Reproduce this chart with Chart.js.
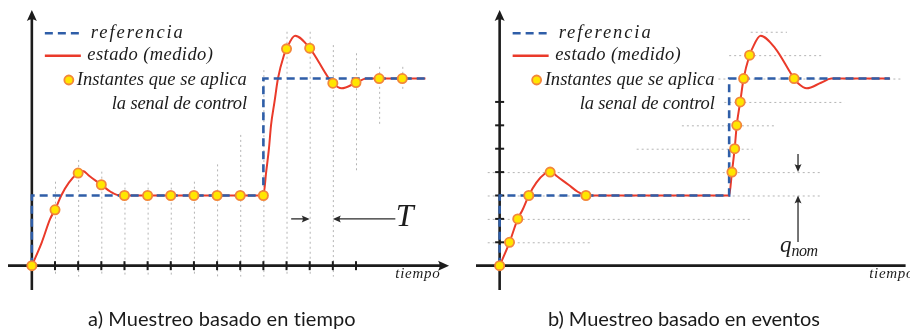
<!DOCTYPE html>
<html><head><meta charset="utf-8">
<script src="https://cdn.jsdelivr.net/npm/chart.js@4.4.1/dist/chart.umd.min.js"></script>
<style>
html,body{margin:0;padding:0;background:#fff;width:910px;height:330px;overflow:hidden}
.p{position:absolute;top:0;width:455px;height:330px}
#wa{left:0}#wb{left:455px}
</style></head><body>
<div class="p" id="wa"><canvas id="ca" width="455" height="330"></canvas></div>
<div class="p" id="wb"><canvas id="cb" width="455" height="330"></canvas></div>
<script>
// ---- data (time in sample periods T, value in quantisation steps q_nom) ----
const stateCurve = [[0,0],[0.43,1],[0.79,2],[1,2.39],[1.27,3],[1.6,3.55],[2,3.96],[2.2,4.05],[2.5,3.82],[3,3.46],[3.4,3.16],[3.8,3.0],[10,3],[10.12,4],[10.24,5],[10.33,6],[10.48,7],[10.63,8],[10.89,9],[11,9.27],[11.37,9.83],[12,9.3],[12.83,8],[13,7.8],[13.38,7.58],[14,7.82],[14.45,8],[17,8]];
const reference = [[0,0],[0,3],[10,3],[10,8],[17,8]];
const samplesTime = [[0,0],[1,2.39],[2,3.96],[3,3.46],[4,3],[5,3],[6,3],[7,3],[8,3],[9,3],[10,3],[11,9.27],[12,9.3],[13,7.8],[14,7.83],[15,8],[16,8]];
const samplesEvent = [[0,0],[0.43,1],[0.79,2],[1.27,3],[2.2,4],[3.76,3],[10.12,4],[10.24,5],[10.33,6],[10.48,7],[10.63,8],[10.89,9],[12.83,8]];
const timeTicks = [1,2,3,4,5,6,7,8,9,10,11,12,13,14];
const levelTicks = [1,2,3,4,5,6,7];
// vertical sampling guides: [t, top, bottom]
const timeGuides = [[1,3.59,-0.47],[2,4.52,-0.47],[3,4.02,-0.47],[4,3.55,-0.47],[5,3.55,-0.47],[6,3.55,-0.47],[7,3.59,-0.47],[8,4.33,-0.47],[9,5.59,-0.47],[10,8.36,-0.47],[11,10.0,-0.47],[12,10.0,-0.47],[13,9.43,-0.47],[14,9.08,3.95],[15,8.5,5.94],[16,8.5,7.44]];
// horizontal level guides: [k, tStart, tEnd]
const levelGuides = [[1,-0.52,3.99],[2,-0.52,11.02],[3,-0.52,14.02],[4,-0.52,14.02],[5,5.97,11.02],[6,7.94,12.02],[7,9.79,15.02],[8,9.53,17.5],[9,10.0,14.02],[10,10.94,12.52]];
const legendLabels = ['referencia','estado (medido)','Instantes que se aplica','la senal de control'];
const captions = ['a) Muestreo basado en tiempo','b) Muestreo basado en eventos'];
const axisLabel = 'tiempo';
const periodLabel = 'T';
const quantLabel = ['q','nom'];

const BLUE='#2f5ea8', RED='#ea3a2a', YEL='#ffe600', ORG='#f3873a', INK='#1c1c1c', GRAY='#b4b4b4';
const SERIF="'Liberation Serif','DejaVu Serif',serif";

function txt(ctx,s,x,y,font,w,color){
  ctx.save();ctx.font=font;ctx.fillStyle=color||INK;ctx.textAlign='left';ctx.textBaseline='alphabetic';
  ctx.letterSpacing='0px';
  if(w){const m=ctx.measureText(s).width;let ls=(w-m)/s.length;ls=Math.max(-2,Math.min(5,ls));ctx.letterSpacing=ls.toFixed(2)+'px';}
  ctx.fillText(s,x,y);ctx.restore();
}
function head(ctx,x,y,ang,len,hw){
  ctx.save();ctx.translate(x,y);ctx.rotate(ang);ctx.beginPath();
  ctx.moveTo(0,0);ctx.lineTo(-len,-hw);ctx.quadraticCurveTo(-len*0.7,0,-len,hw);ctx.closePath();ctx.fill();ctx.restore();
}
function arrow(ctx,x1,y1,x2,y2,lw,len,hw){
  const a=Math.atan2(y2-y1,x2-x1);
  ctx.beginPath();ctx.moveTo(x1,y1);ctx.lineTo(x2-Math.cos(a)*len*0.6,y2-Math.sin(a)*len*0.6);ctx.lineWidth=lw;ctx.stroke();
  head(ctx,x2,y2,a,len,hw);
}

const panelPlugin={
  id:'panel',
  beforeDatasetsDraw(chart,args,o){
    const ctx=chart.ctx,X=chart.scales.x,Y=chart.scales.y,ca=chart.chartArea;
    const px=v=>X.getPixelForValue(v),py=v=>Y.getPixelForValue(v);
    ctx.save();
    ctx.strokeStyle=GRAY;ctx.lineWidth=1;ctx.setLineDash([2,3]);
    if(o.kind==='a'){
      timeGuides.forEach(([t,a,b])=>{ctx.beginPath();ctx.moveTo(px(t)+0.5,py(a));ctx.lineTo(px(t)+0.5,py(b));ctx.stroke();});
    }else{
      levelGuides.forEach(([k,a,b])=>{ctx.beginPath();ctx.moveTo(px(a),py(k)+0.5);ctx.lineTo(px(b),py(k)+0.5);ctx.stroke();});
    }
    ctx.setLineDash([]);
    ctx.strokeStyle=INK;ctx.fillStyle=INK;
    const x0=px(0),y0=py(0);
    const xEnd=o.kind==='a'?px(18.02):ca.right+2;
    ctx.lineWidth=2.6;ctx.beginPath();ctx.moveTo(ca.left,y0);ctx.lineTo(xEnd-(o.kind==='a'?6:0),y0);ctx.stroke();
    if(o.kind==='a')head(ctx,xEnd,y0,0,11,5);
    ctx.beginPath();ctx.moveTo(x0,ca.bottom);ctx.lineTo(x0,ca.top+6);ctx.stroke();
    head(ctx,x0,ca.top,-Math.PI/2,11,5);
    ctx.lineWidth=2;
    if(o.kind==='a'){
      timeTicks.forEach(t=>{ctx.beginPath();ctx.moveTo(px(t),y0-4.5);ctx.lineTo(px(t),y0+4.5);ctx.stroke();});
    }else{
      levelTicks.forEach(k=>{ctx.beginPath();ctx.moveTo(x0-4.5,py(k));ctx.lineTo(x0+4.5,py(k));ctx.stroke();});
    }
    ctx.restore();
  },
  afterDatasetsDraw(chart,args,o){
    const ctx=chart.ctx,X=chart.scales.x,Y=chart.scales.y;
    const px=v=>X.getPixelForValue(v),py=v=>Y.getPixelForValue(v);
    const x0=px(0);
    ctx.save();
    ctx.strokeStyle=BLUE;ctx.lineWidth=2.6;ctx.setLineDash([8,5]);
    ctx.beginPath();ctx.moveTo(x0+13,33.3);ctx.lineTo(x0+49,33.3);ctx.stroke();
    ctx.setLineDash([]);ctx.strokeStyle=RED;ctx.lineWidth=2.4;
    ctx.beginPath();ctx.moveTo(x0+13,55.7);ctx.lineTo(x0+49,55.7);ctx.stroke();
    ctx.beginPath();ctx.arc(x0+37,80,4.5,0,Math.PI*2);ctx.fillStyle=YEL;ctx.fill();ctx.strokeStyle=ORG;ctx.lineWidth=1.8;ctx.stroke();
    const fL='italic 18.5px '+SERIF;
    txt(ctx,legendLabels[0],x0+59,37.6,fL,94);
    txt(ctx,legendLabels[1],x0+55.5,60,fL,126);
    txt(ctx,legendLabels[2],x0+45,85,fL,170);
    txt(ctx,legendLabels[3],x0+80,109.3,fL,135);
    const y0=py(0);
    if(o.kind==='a'){
      txt(ctx,axisLabel,px(15.7),y0+12.6,'italic 15px '+SERIF,45);
      ctx.fillStyle='#2a2a2a';ctx.strokeStyle='#2a2a2a';
      arrow(ctx,px(11.2),py(2.0),px(12.0),py(2.0),1.3,8,3.5);
      arrow(ctx,px(15.7),py(2.0),px(13.0),py(2.0),1.3,8,3.5);
      txt(ctx,periodLabel,px(15.72),py(2.0)+7,'italic 32px '+SERIF,23);
    }else{
      txt(ctx,axisLabel,px(16.1),y0+12.6,'italic 15px '+SERIF,45);
      ctx.fillStyle='#2a2a2a';ctx.strokeStyle='#2a2a2a';
      arrow(ctx,px(13),py(4.77),px(13),py(4.0),1.3,8,3.5);
      arrow(ctx,px(13),py(1.01),px(13),py(3.0),1.3,8,3.5);
      txt(ctx,quantLabel[0],px(13)-18,py(0.6),'italic 23px '+SERIF,11);
      txt(ctx,quantLabel[1],px(13)-6.5,py(0.42),'italic 16px '+SERIF,26);
    }
    const cap=captions[o.kind==='a'?0:1];
    txt(ctx,cap,o.kind==='a'?88:93,326,"20px Lato,'Open Sans',sans-serif",o.kind==='a'?268:272,'#1a1a1a');
    ctx.restore();
  }
};

function makeChart(id,kind,samples,padL,padR,xMax){
  const pts=a=>a.map(([x,y])=>({x,y}));
  return new Chart(document.getElementById(id),{
    type:'scatter',
    data:{datasets:[
      {label:'Instantes que se aplica la senal de control',data:pts(samples),showLine:false,pointRadius:4.6,pointHoverRadius:4.6,pointBackgroundColor:YEL,pointBorderColor:ORG,pointBorderWidth:1.8,order:0},
      {label:'referencia',data:pts(reference),showLine:true,borderColor:BLUE,borderWidth:2.6,borderDash:[8,5],pointRadius:0,tension:0,order:1},
      {label:'estado (medido)',data:pts(stateCurve),showLine:true,borderColor:RED,borderWidth:2,pointRadius:0,cubicInterpolationMode:'monotone',order:2}
    ]},
    options:{responsive:false,animation:false,devicePixelRatio:1,events:[],
      layout:{padding:{left:padL,right:padR,top:10,bottom:40}},
      scales:{x:{type:'linear',min:-1.03,max:xMax,display:false},y:{type:'linear',min:-1.04,max:10.93,display:false}},
      plugins:{legend:{display:false},tooltip:{enabled:false},panel:{kind}}
    },
    plugins:[panelPlugin]
  });
}
makeChart('ca','a',samplesTime,8,3.6,18);
makeChart('cb','b',samplesEvent,21,0,17.6);
</script>
</body></html>
